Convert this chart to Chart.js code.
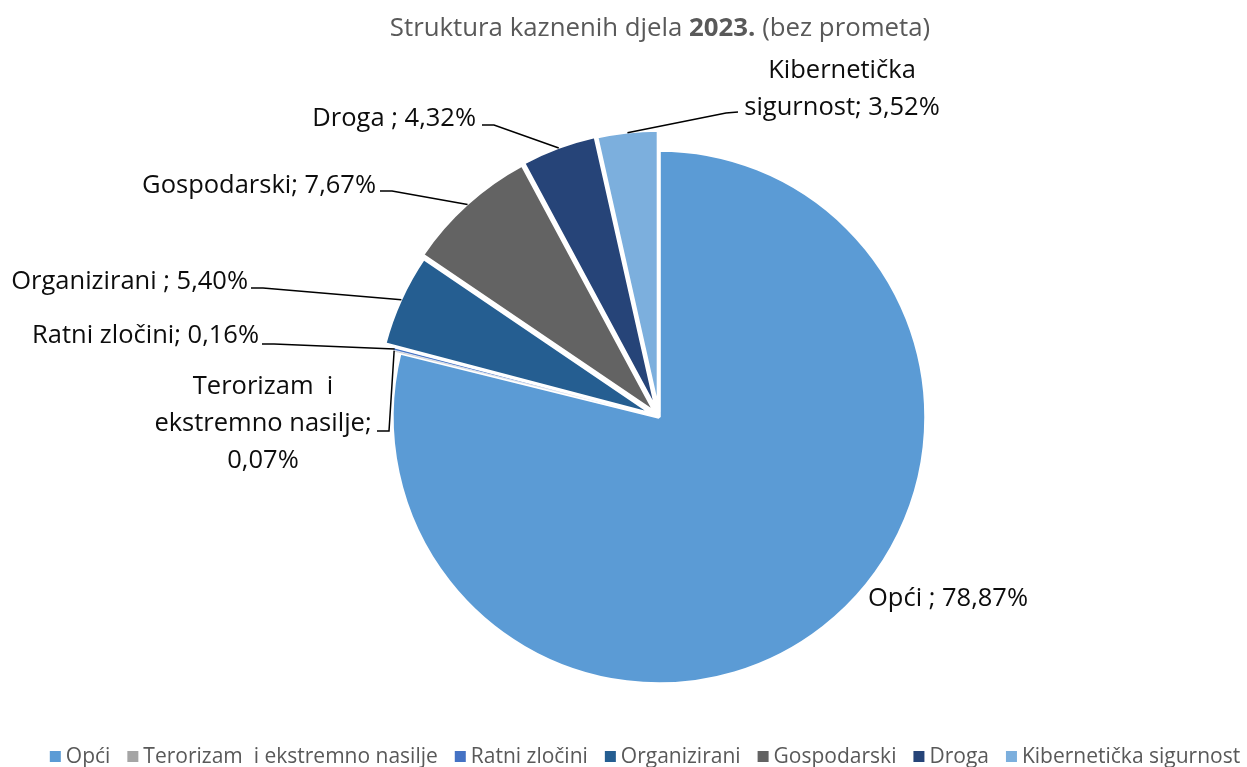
<!DOCTYPE html>
<html lang="hr">
<head>
<meta charset="utf-8">
<title>Struktura kaznenih djela 2023.</title>
<script src="https://cdn.jsdelivr.net/npm/chart.js@4.4.1/dist/chart.umd.min.js"></script>
<style>
  html, body { margin: 0; padding: 0; background: #fff; }
  #wrap { width: 1247px; height: 767px; position: relative; }
</style>
</head>
<body>
<div id="wrap"><canvas id="chart"></canvas></div>
<script>
'use strict';

/* ── Data ── */
const categories  = ['Opći', 'Terorizam  i ekstremno nasilje', 'Ratni zločini', 'Organizirani', 'Gospodarski', 'Droga', 'Kibernetička sigurnost'];
const shares      = [78.87, 0.07, 0.16, 5.40, 7.67, 4.32, 3.52];
const labelNames  = ['Opći ;', 'Terorizam  i\nekstremno nasilje;\n', 'Ratni zločini;', 'Organizirani ;', 'Gospodarski;', 'Droga ;', 'Kibernetička\nsigurnost;'];
const sliceColors = ['#5B9BD5', '#A5A5A5', '#4472C4', '#255E91', '#636363', '#264478', '#7CAFDD'];

/* ── Look ── */
const FONT         = '"Open Sans", "DejaVu Sans", sans-serif';
const sliceRadius  = [267, 270, 270, 279, 282, 283, 282];
const sliceBorder  = [3.5, 0.6, 0.6, 3.5, 3.5, 3.5, 3.5];
const sliceExplode = [0, 4, 4, 5, 5, 5, 5];

// label anchors (baseline) and leader elbows, one entry per slice
const labelPlace = [
  { x: 948, y: 606, align: 'center' },
  { x: 263, y: 394, align: 'center', lead: [[377, 431], [389, 431]] },
  { x: 259, y: 343, align: 'right',  lead: [[262, 344], [274, 344]] },
  { x: 248, y: 289, align: 'right',  lead: [[251, 288], [263, 288]] },
  { x: 376, y: 193, align: 'right',  lead: [[380, 191], [392, 191]] },
  { x: 476, y: 126, align: 'right',  lead: [[482, 125], [494, 125]] },
  { x: 842, y: 78,  align: 'center', lead: [[738, 112], [726, 113]] },
];
const LINE_H = 37;

function labelLines(i) {
  const pct  = shares[i].toFixed(2).replace('.', ',') + '%';
  const name = labelNames[i];
  return (name.endsWith('\n') ? name + pct : name + ' ' + pct).split('\n');
}

/* ── Plugins ── */
const sliceShape = {
  id: 'sliceShape',
  afterDatasetsUpdate(chart) {
    chart.getDatasetMeta(0).data.forEach((arc, i) => {
      const mid = (arc.startAngle + arc.endAngle) / 2;
      arc.x += Math.cos(mid) * sliceExplode[i];
      arc.y += Math.sin(mid) * sliceExplode[i];
      arc.outerRadius = sliceRadius[i];
    });
  }
};

const sliceLabels = {
  id: 'sliceLabels',
  afterDatasetsDraw(chart) {
    const ctx  = chart.ctx;
    const arcs = chart.getDatasetMeta(0).data;
    ctx.save();
    ctx.font = '25.5px ' + FONT;
    ctx.fillStyle = '#0d0d0d';
    ctx.strokeStyle = '#000';
    ctx.lineWidth = 1.5;
    ctx.textBaseline = 'alphabetic';
    arcs.forEach((arc, i) => {
      const p = labelPlace[i];
      ctx.textAlign = p.align;
      labelLines(i).forEach((t, k) => ctx.fillText(t, p.x, p.y + k * LINE_H));
      if (!p.lead) return;
      const mid = (arc.startAngle + arc.endAngle) / 2;
      const ax = arc.x + Math.cos(mid) * (arc.outerRadius - 1);
      const ay = arc.y + Math.sin(mid) * (arc.outerRadius - 1);
      ctx.beginPath();
      ctx.moveTo(p.lead[0][0], p.lead[0][1]);
      p.lead.slice(1).forEach(q => ctx.lineTo(q[0], q[1]));
      ctx.lineTo(ax, ay);
      ctx.stroke();
    });
    ctx.restore();
  }
};

const titleAndLegend = {
  id: 'titleAndLegend',
  afterDraw(chart) {
    const ctx = chart.ctx;
    ctx.save();
    ctx.fillStyle = '#595959';
    ctx.textBaseline = 'alphabetic';
    ctx.textAlign = 'left';

    // title with bold year
    const parts = [['Struktura kaznenih djela ', ''], ['2023.', 'bold '], [' (bez prometa)', '']];
    const widths = parts.map(([t, w]) => { ctx.font = w + '25.8px ' + FONT; return ctx.measureText(t).width; });
    let x = 660 - widths.reduce((a, b) => a + b, 0) / 2;
    parts.forEach(([t, w], k) => {
      ctx.font = w + '25.8px ' + FONT;
      ctx.fillText(t, x, 36);
      x += widths[k];
    });

    // legend
    ctx.font = '21px ' + FONT;
    const box = 11, gap = 5, space = 17;
    const items = categories.map(c => ctx.measureText(c).width);
    const total = items.reduce((a, w) => a + box + gap + w, 0) + space * (items.length - 1);
    x = 645 - total / 2;
    categories.forEach((c, i) => {
      ctx.fillStyle = sliceColors[i];
      ctx.fillRect(x, 751, box, box);
      ctx.fillStyle = '#595959';
      ctx.fillText(c, x + box + gap, 763);
      x += box + gap + items[i] + space;
    });
    ctx.restore();
  }
};

/* ── Chart ── */
new Chart(document.getElementById('chart'), {
  type: 'pie',
  data: {
    labels: categories,
    datasets: [{
      data: shares,
      backgroundColor: sliceColors,
      borderColor: '#ffffff',
      borderWidth: sliceBorder,
      clip: false,
    }],
  },
  options: {
    responsive: true,
    maintainAspectRatio: false,
    animation: false,
    radius: 267,
    layout: { padding: { left: 71, right: 0, top: 100, bottom: 33 } },
    plugins: {
      legend:  { display: false },
      tooltip: { enabled: false },
    },
  },
  plugins: [sliceShape, sliceLabels, titleAndLegend],
});
</script>
</body>
</html>
